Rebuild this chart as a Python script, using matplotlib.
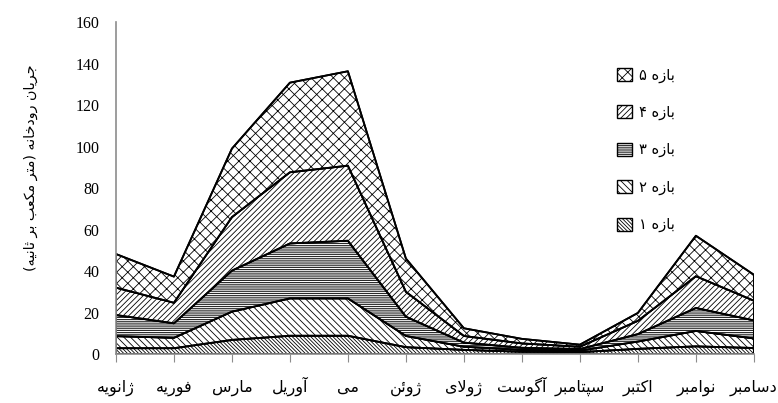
import numpy as np
import matplotlib
matplotlib.use("Agg")
import matplotlib.pyplot as plt
from matplotlib.patches import Patch

months = ["ژانویه", "فوریه", "مارس", "آوریل", "می", "ژوئن",
          "ژولای", "آگوست", "سپتامبر", "اکتبر", "نوامبر", "دسامبر"]
series_names = ["بازه ۱", "بازه ۲", "بازه ۳", "بازه ۴", "بازه ۵"]
b1 = [2.8, 2.8, 6.8, 8.8, 8.8, 3.3, 2.0, 1.1, 0.9, 2.5, 3.7, 2.9]
b2 = [5.8, 5.0, 13.6, 18.0, 18.0, 5.4, 1.5, 0.9, 0.7, 3.5, 7.4, 4.6]
b3 = [10.2, 7.0, 19.8, 26.5, 27.8, 9.3, 2.0, 1.0, 0.8, 3.6, 11.1, 8.7]
b4 = [13.2, 9.9, 25.8, 34.3, 36.2, 12.0, 3.2, 2.1, 1.1, 6.4, 15.3, 9.5]
b5 = [16.2, 12.6, 33.0, 43.2, 45.5, 16.0, 3.7, 2.2, 1.0, 3.8, 19.5, 12.5]
y_label = "جریان رودخانه (متر مکعب بر ثانیه)"
y_ticks = [0, 20, 40, 60, 80, 100, 120, 140, 160]

# --- minimal Persian shaping (matplotlib has no complex text layout) ---
FORMS = {
    'ا': ('\uFE8D', '\uFE8E', None, None),
    'آ': ('\uFE81', '\uFE82', None, None),
    'ب': ('\uFE8F', '\uFE90', '\uFE91', '\uFE92'),
    'پ': ('\uFB56', '\uFB57', '\uFB58', '\uFB59'),
    'ت': ('\uFE95', '\uFE96', '\uFE97', '\uFE98'),
    'ث': ('\uFE99', '\uFE9A', '\uFE9B', '\uFE9C'),
    'ج': ('\uFE9D', '\uFE9E', '\uFE9F', '\uFEA0'),
    'خ': ('\uFEA5', '\uFEA6', '\uFEA7', '\uFEA8'),
    'د': ('\uFEA9', '\uFEAA', None, None),
    'ر': ('\uFEAD', '\uFEAE', None, None),
    'ز': ('\uFEAF', '\uFEB0', None, None),
    'ژ': ('\uFB8A', '\uFB8B', None, None),
    'س': ('\uFEB1', '\uFEB2', '\uFEB3', '\uFEB4'),
    'ع': ('\uFEC9', '\uFECA', '\uFECB', '\uFECC'),
    'ف': ('\uFED1', '\uFED2', '\uFED3', '\uFED4'),
    'ک': ('\uFB8E', '\uFB8F', '\uFB90', '\uFB91'),
    'گ': ('\uFB92', '\uFB93', '\uFB94', '\uFB95'),
    'ل': ('\uFEDD', '\uFEDE', '\uFEDF', '\uFEE0'),
    'م': ('\uFEE1', '\uFEE2', '\uFEE3', '\uFEE4'),
    'ن': ('\uFEE5', '\uFEE6', '\uFEE7', '\uFEE8'),
    'و': ('\uFEED', '\uFEEE', None, None),
    'ه': ('\uFEE9', '\uFEEA', '\uFEEB', '\uFEEC'),
    'ی': ('\uFBFC', '\uFBFD', '\uFBFE', '\uFBFF'),
    'ئ': ('\uFE89', '\uFE8A', '\uFE8B', '\uFE8C'),
}
LAMALEF = {'ا': ('\uFEFB', '\uFEFC'), 'آ': ('\uFEF5', '\uFEF6')}
MIRROR = {'(': ')', ')': '('}


def fa(s):
    res = []
    n = len(s)
    i = 0
    while i < n:
        c = s[i]
        if c not in FORMS:
            res.append(MIRROR.get(c, c))
            i += 1
            continue
        prev = s[i - 1] if i > 0 else None
        jp = prev in FORMS and FORMS[prev][2] is not None
        if c == 'ل' and i + 1 < n and s[i + 1] in LAMALEF:
            lig = LAMALEF[s[i + 1]]
            res.append(lig[1] if jp else lig[0])
            i += 2
            continue
        nxt = s[i + 1] if i + 1 < n else None
        jn = FORMS[c][2] is not None and nxt in FORMS
        iso, fin, ini, med = FORMS[c]
        if jp and jn:
            res.append(med)
        elif jp:
            res.append(fin)
        elif jn:
            res.append(ini)
        else:
            res.append(iso)
        i += 1
    return ''.join(reversed(res))


plt.rcParams['hatch.linewidth'] = 0.6
fig = plt.figure(figsize=(7.78, 4.03), dpi=100)
ax = fig.add_axes([0.149, 0.1216, 0.82, 0.8236])

x = np.arange(len(months))
data = np.array([b1, b2, b3, b4, b5])
cum = np.cumsum(data, axis=0)
hatches = ['\\' * 9, '\\' * 5, '-' * 9, '/' * 6, 'xxx']
base = np.zeros(len(months))
handles = []
for k in range(5):
    top = cum[k]
    ax.fill_between(x, base, top, facecolor='white', edgecolor='black',
                    hatch=hatches[k], linewidth=1.3, zorder=2 + k * 0.01)
    handles.append(Patch(facecolor='white', edgecolor='black', hatch=hatches[k], linewidth=1.0))
    base = top
for k in range(5):
    ax.plot(x, cum[k], color='black', lw=1.3, zorder=3)

ax.set_xlim(0, len(months) - 1)
ax.set_ylim(0, 160)
ax.set_yticks(y_ticks)
ax.set_yticklabels([str(v) for v in y_ticks], fontfamily='Liberation Serif', fontsize=11.5)
ax.tick_params(axis='y', length=0, pad=12)
ax.set_xticks(x)
ax.set_xticklabels([fa(m) for m in months], fontfamily='DejaVu Sans', fontsize=11.5)
for lbl in ax.get_xticklabels():
    lbl.set_va('baseline')
ax.tick_params(axis='x', length=6, color='#8c8c8c', pad=21)
for s in ['top', 'right']:
    ax.spines[s].set_visible(False)
for s in ['left', 'bottom']:
    ax.spines[s].set_color('#8c8c8c')
    ax.spines[s].set_linewidth(1.2)
    ax.spines[s].set_zorder(5)

fig.text(0.04, 0.583, fa(y_label), rotation=90, ha='center', va='center',
         fontfamily='DejaVu Sans', fontsize=10.3)

leg = ax.legend(handles[::-1], [fa(n) for n in series_names[::-1]],
                loc='upper left', bbox_to_anchor=(0.765, 0.903), frameon=False,
                handlelength=1.0, handleheight=1.0, labelspacing=1.52,
                handletextpad=0.5, prop={'family': 'DejaVu Sans', 'size': 10.5})

fig.savefig('out.png', dpi=100)
